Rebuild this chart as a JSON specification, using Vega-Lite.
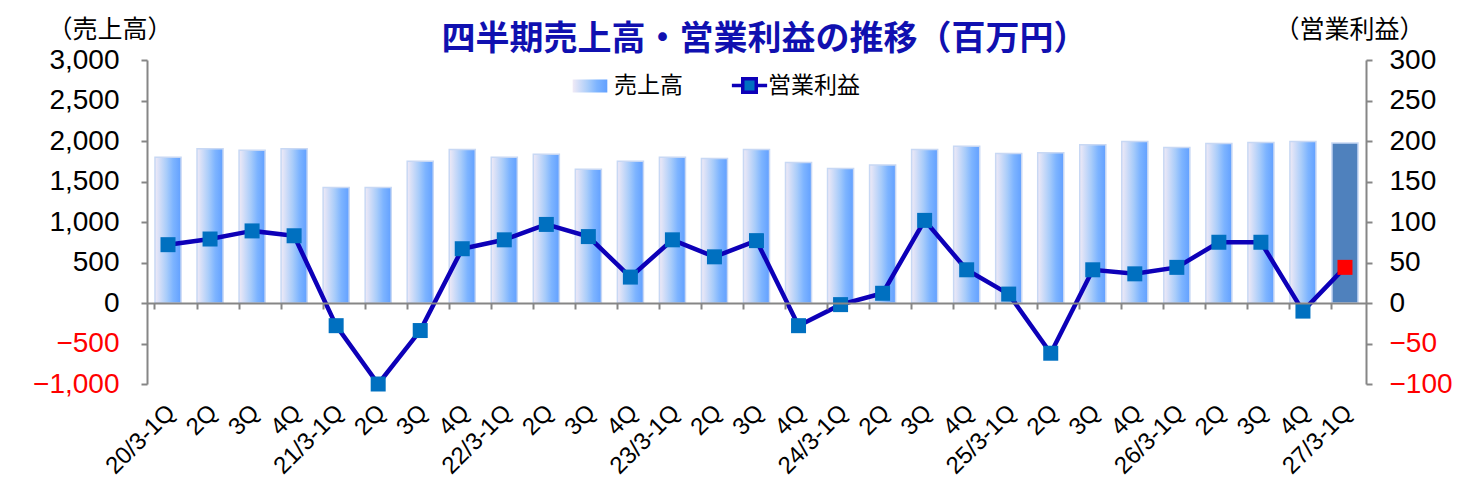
{
  "$schema": "https://vega.github.io/schema/vega-lite/v6.json",
  "width": 1219,
  "height": 324,
  "autosize": {"type": "none"},
  "padding": {"left": 147, "top": 60, "right": 117, "bottom": 98},
  "background": "white",
  "title": {
    "text": "四半期売上高・営業利益の推移（百万円）",
    "anchor": "middle",
    "frame": "group",
    "font": "Noto Sans CJK JP",
    "fontSize": 34,
    "fontWeight": "bold",
    "color": "#1010B0",
    "baseline": "bottom",
    "offset": 0,
    "dy": 74,
    "dx": 8
  },
  "config": {
    "view": {"stroke": null},
    "axis": {
      "grid": false,
      "domainColor": "#868686",
      "domainWidth": 2,
      "tickColor": "#868686",
      "tickWidth": 2,
      "labelFont": "Liberation Sans",
      "labelColor": "black",
      "titleFont": "Noto Sans CJK JP",
      "titleFontWeight": "normal",
      "titleColor": "black"
    },
    "legend": {
      "title": null,
      "orient": "none",
      "labelFont": "Noto Sans CJK JP",
      "labelFontSize": 23,
      "labelColor": "black"
    }
  },
  "data": {
    "values": [
      {"q": "20/3-1Q", "sales": 1800, "op": 72, "fc": false},
      {"q": "20/3-2Q", "sales": 1905, "op": 79, "fc": false},
      {"q": "20/3-3Q", "sales": 1885, "op": 89, "fc": false},
      {"q": "20/3-4Q", "sales": 1905, "op": 83, "fc": false},
      {"q": "21/3-1Q", "sales": 1425, "op": -28, "fc": false},
      {"q": "21/3-2Q", "sales": 1425, "op": -100, "fc": false},
      {"q": "21/3-3Q", "sales": 1750, "op": -34, "fc": false},
      {"q": "21/3-4Q", "sales": 1895, "op": 67, "fc": false},
      {"q": "22/3-1Q", "sales": 1800, "op": 78, "fc": false},
      {"q": "22/3-2Q", "sales": 1835, "op": 97, "fc": false},
      {"q": "22/3-3Q", "sales": 1650, "op": 82, "fc": false},
      {"q": "22/3-4Q", "sales": 1750, "op": 32, "fc": false},
      {"q": "23/3-1Q", "sales": 1800, "op": 78, "fc": false},
      {"q": "23/3-2Q", "sales": 1785, "op": 57, "fc": false},
      {"q": "23/3-3Q", "sales": 1895, "op": 77, "fc": false},
      {"q": "23/3-4Q", "sales": 1735, "op": -28, "fc": false},
      {"q": "24/3-1Q", "sales": 1660, "op": -2, "fc": false},
      {"q": "24/3-2Q", "sales": 1705, "op": 12, "fc": false},
      {"q": "24/3-3Q", "sales": 1895, "op": 102, "fc": false},
      {"q": "24/3-4Q", "sales": 1935, "op": 41, "fc": false},
      {"q": "25/3-1Q", "sales": 1845, "op": 11, "fc": false},
      {"q": "25/3-2Q", "sales": 1855, "op": -62, "fc": false},
      {"q": "25/3-3Q", "sales": 1955, "op": 41, "fc": false},
      {"q": "25/3-4Q", "sales": 1995, "op": 36, "fc": false},
      {"q": "26/3-1Q", "sales": 1920, "op": 44, "fc": false},
      {"q": "26/3-2Q", "sales": 1970, "op": 75, "fc": false},
      {"q": "26/3-3Q", "sales": 1980, "op": 75, "fc": false},
      {"q": "26/3-4Q", "sales": 1995, "op": -10, "fc": false},
      {"q": "27/3-1Q", "sales": 1975, "op": 44, "fc": true}
    ]
  },
  "layer": [
    {
      "encoding": {
        "x": {
          "field": "q",
          "type": "nominal",
          "sort": null,
          "scale": {"paddingInner": 0.38, "paddingOuter": 0.19},
          "axis": {
            "title": null,
            "orient": "bottom",
            "domain": false,
            "ticks": false,
            "labelAngle": -45,
            "labelFontSize": 24,
            "labelPadding": 16,
            "labelOffset": -5,
            "labelExpr": "slice(datum.value, -2) === '1Q' ? datum.value : slice(datum.value, -2)"
          }
        },
        "y": {
          "field": "sales",
          "type": "quantitative",
          "scale": {"domain": [-1000, 3000], "nice": false, "zero": false},
          "axis": {
            "orient": "left",
            "title": "（売上高）",
            "titleAngle": 0,
            "titleAlign": "left",
            "titleBaseline": "alphabetic",
            "titleX": -100,
            "titleY": -23,
            "titleFontSize": 25,
            "values": [-1000, -500, 0, 500, 1000, 1500, 2000, 2500, 3000],
            "format": ",.0f",
            "labelFontSize": 28,
            "labelPadding": 22,
            "tickSize": 6,
            "labelColor": {"condition": {"test": "datum.value < 0", "value": "#FF0000"}, "value": "black"}
          }
        }
      },
      "layer": [
        {
          "transform": [{"filter": "!datum.fc"}],
          "mark": {
            "type": "bar",
            "stroke": "#C8D8F4",
            "strokeWidth": 1.5,
            "color": {
              "gradient": "linear",
              "x1": 0, "y1": 0, "x2": 1, "y2": 0,
              "stops": [
                {"offset": 0, "color": "#F0EAF6"},
                {"offset": 0.45, "color": "#A8CCFA"},
                {"offset": 0.7, "color": "#7DB4FF"},
                {"offset": 1, "color": "#62A0FF"}
              ]
            }
          },
          "encoding": {
            "opacity": {
              "datum": "売上高",
              "type": "nominal",
              "scale": {"domain": ["売上高"], "range": [1]},
              "legend": {
                "legendX": 425,
                "legendY": 8,
                "symbolType": "M-1,-0.38H1V0.38H-1Z",
                "symbolSize": 1200,
                "symbolStrokeColor": "#C8D8F4",
                "symbolStrokeWidth": 1,
                "labelOffset": 6
              }
            }
          }
        },
        {
          "transform": [{"filter": "datum.fc"}],
          "mark": {"type": "bar", "color": "#4F81BD", "stroke": "#C8D8F4", "strokeWidth": 1.5}
        }
      ]
    },
    {
      "encoding": {
        "x": {
          "field": "q",
          "type": "nominal",
          "sort": null,
          "axis": {
            "title": null,
            "orient": "bottom",
            "offset": -81,
            "labels": false,
            "bandPosition": 0,
            "tickSize": 6,
            "zindex": 1
          }
        },
        "y": {
          "field": "op",
          "type": "quantitative",
          "scale": {"domain": [-100, 300], "nice": false, "zero": false},
          "axis": {
            "orient": "right",
            "title": "（営業利益）",
            "titleAngle": 0,
            "titleAlign": "left",
            "titleBaseline": "alphabetic",
            "titleX": -92,
            "titleY": -23,
            "titleFontSize": 25,
            "values": [-100, -50, 0, 50, 100, 150, 200, 250, 300],
            "format": ",.0f",
            "labelFontSize": 28,
            "labelPadding": 17,
            "tickSize": 6,
            "labelColor": {"condition": {"test": "datum.value < 0", "value": "#FF0000"}, "value": "black"}
          }
        }
      },
      "layer": [
        {
          "mark": {"type": "line", "color": "#0D00B8", "strokeWidth": 4.5},
          "encoding": {
            "opacity": {
              "datum": "営業利益",
              "type": "nominal",
              "scale": {"domain": ["営業利益"], "range": [1]},
              "legend": {
                "legendX": 591,
                "legendY": 14,
                "symbolType": "M-2.35,0H-0.9M0.9,0H2.35M-0.9,-0.9H0.9V0.9H-0.9Z",
                "symbolSize": 225,
                "symbolFillColor": "#0070C0",
                "symbolStrokeColor": "#0D00B8",
                "symbolStrokeWidth": 3.5,
                "labelOffset": 7
              }
            }
          }
        },
        {
          "mark": {"type": "square", "size": 225, "opacity": 1},
          "encoding": {
            "color": {"condition": {"test": "datum.fc", "value": "#FF0000"}, "value": "#0070C0"}
          }
        }
      ]
    }
  ],
  "resolve": {
    "scale": {"y": "independent", "opacity": "independent"},
    "axis": {"x": "independent"},
    "legend": {"opacity": "independent"}
  }
}
